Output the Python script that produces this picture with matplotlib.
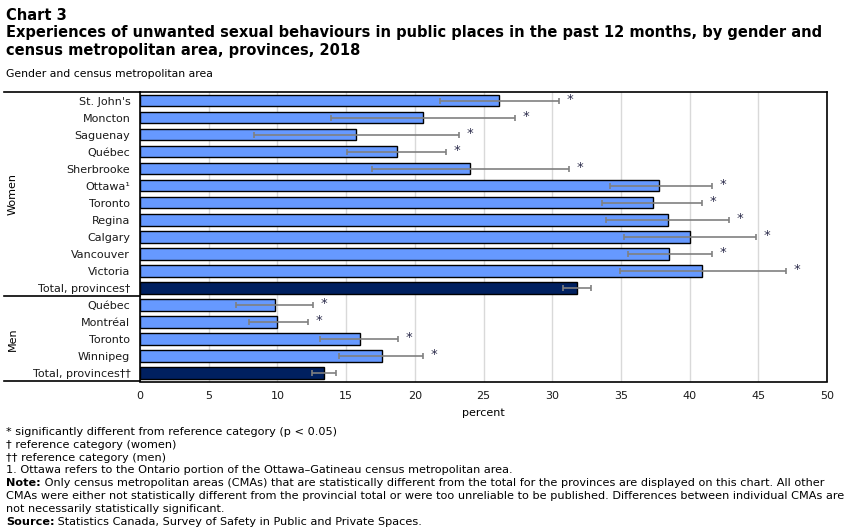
import matplotlib.pyplot as plt
import numpy as np
from matplotlib.lines import Line2D
from matplotlib.transforms import blended_transform_factory

women_labels = ["St. John's", "Moncton", "Saguenay", "Québec", "Sherbrooke", "Ottawa¹",
                "Toronto", "Regina", "Calgary", "Vancouver", "Victoria", "Total, provinces†"]
women_values = [26.1, 20.6, 15.7, 18.7, 24.0, 37.8, 37.3, 38.4, 40.0, 38.5, 40.9, 31.8]
women_low = [21.8, 13.9, 8.3, 15.1, 16.9, 34.2, 33.6, 33.9, 35.2, 35.5, 34.9, 30.8]
women_high = [30.5, 27.3, 23.2, 22.3, 31.2, 41.6, 40.9, 42.9, 44.8, 41.6, 47.0, 32.8]
women_sig = [True] * 11 + [False]

men_labels = ["Québec", "Montréal", "Toronto", "Winnipeg", "Total, provinces††"]
men_values = [9.8, 10.0, 16.0, 17.6, 13.4]
men_low = [7.0, 7.9, 13.1, 14.5, 12.5]
men_high = [12.6, 12.2, 18.8, 20.6, 14.3]
men_sig = [True] * 4 + [False]

x_ticks = list(range(0, 51, 5))

footnotes = [
    ("", "* significantly different from reference category (p < 0.05)"),
    ("", "† reference category (women)"),
    ("", "†† reference category (men)"),
    ("", "1. Ottawa refers to the Ontario portion of the Ottawa–Gatineau census metropolitan area."),
    ("Note:", " Only census metropolitan areas (CMAs) that are statistically different from the total for the provinces are displayed on this chart. All other"),
    ("", "CMAs were either not statistically different from the provincial total or were too unreliable to be published. Differences between individual CMAs are"),
    ("", "not necessarily statistically significant."),
    ("Source:", " Statistics Canada, Survey of Safety in Public and Private Spaces."),
]

labels = women_labels + men_labels
values = np.array(women_values + men_values)
low = np.array(women_low + men_low)
high = np.array(women_high + men_high)
sig = women_sig + men_sig
y = np.arange(len(labels))
colors = ['#002060' if lab.startswith('Total') else '#6699FF' for lab in labels]

plt.rcParams['font.family'] = ['DejaVu Sans']

fig = plt.figure(figsize=(8.51, 5.30), dpi=100)
ax = fig.add_axes([140 / 851, 1 - 381.5 / 530, 687 / 851, 289.5 / 530])

ax.barh(y, values, height=0.68, color=colors, edgecolor='black', linewidth=1, zorder=3)
ax.errorbar(values, y, xerr=[values - low, high - values], fmt='none', ecolor='#808080',
            elinewidth=1.2, capsize=2.5, capthick=1.2, zorder=4)
for yi, h, s in zip(y, high, sig):
    if s:
        ax.text(h + 0.55, yi - 0.08, '*', ha='left', va='center', fontsize=9.5,
                color='#2a2a4a', zorder=5)

ax.set_xlim(0, 50)
ax.set_ylim(len(labels) - 0.5, -0.5)
ax.set_xticks(x_ticks)
ax.set_yticks(y)
ax.set_yticklabels(labels)
ax.tick_params(axis='both', length=0, labelsize=8, colors='#1a1a1a')
ax.tick_params(axis='y', pad=7)
ax.tick_params(axis='x', pad=7)
ax.grid(axis='x', color='#d9d9d9', linewidth=1, zorder=0)
ax.set_xlabel('percent', fontsize=8, labelpad=5)
for sp in ax.spines.values():
    sp.set_linewidth(1.2)

# lines extending into the label area
tr = blended_transform_factory(fig.transFigure, ax.transData)
n_w = len(women_labels)
for yy in [-0.5, n_w - 0.5, len(labels) - 0.5]:
    fig.add_artist(Line2D([4 / 851, 140 / 851], [yy, yy], transform=tr, color='black',
                          linewidth=1.2))

# group labels
fig.text(13 / 851, 0, 'Women', rotation=90, ha='center', va='center', fontsize=8,
         transform=tr).set_y((n_w - 1) / 2)
fig.text(13 / 851, 0, 'Men', rotation=90, ha='center', va='center', fontsize=8,
         transform=tr).set_y(n_w + (len(men_labels) - 1) / 2)

# titles
fig.text(6 / 851, 1 - 20 / 530, 'Chart 3', fontsize=10.5, fontweight='bold', va='baseline')
fig.text(6 / 851, 1 - 37.5 / 530,
         'Experiences of unwanted sexual behaviours in public places in the past 12 months, by gender and',
         fontsize=10.5, fontweight='bold', va='baseline')
fig.text(6 / 851, 1 - 55 / 530, 'census metropolitan area, provinces, 2018',
         fontsize=10.5, fontweight='bold', va='baseline')
fig.text(6 / 851, 1 - 77 / 530, 'Gender and census metropolitan area', fontsize=7.8,
         va='baseline')

# footnotes
y0 = 435
fs = 8.1
for i, (bold, rest) in enumerate(footnotes):
    yy = 1 - (y0 + i * 12.8) / 530
    if bold:
        t = fig.text(6 / 851, yy, bold, fontsize=fs, fontweight='bold', va='baseline')
        ax.annotate(rest, xy=(1, 0), xycoords=t, va='bottom', ha='left', fontsize=fs,
                    annotation_clip=False)
    else:
        fig.text(6 / 851, yy, rest, fontsize=fs, va='baseline')

fig.savefig('out.png', dpi=100)
